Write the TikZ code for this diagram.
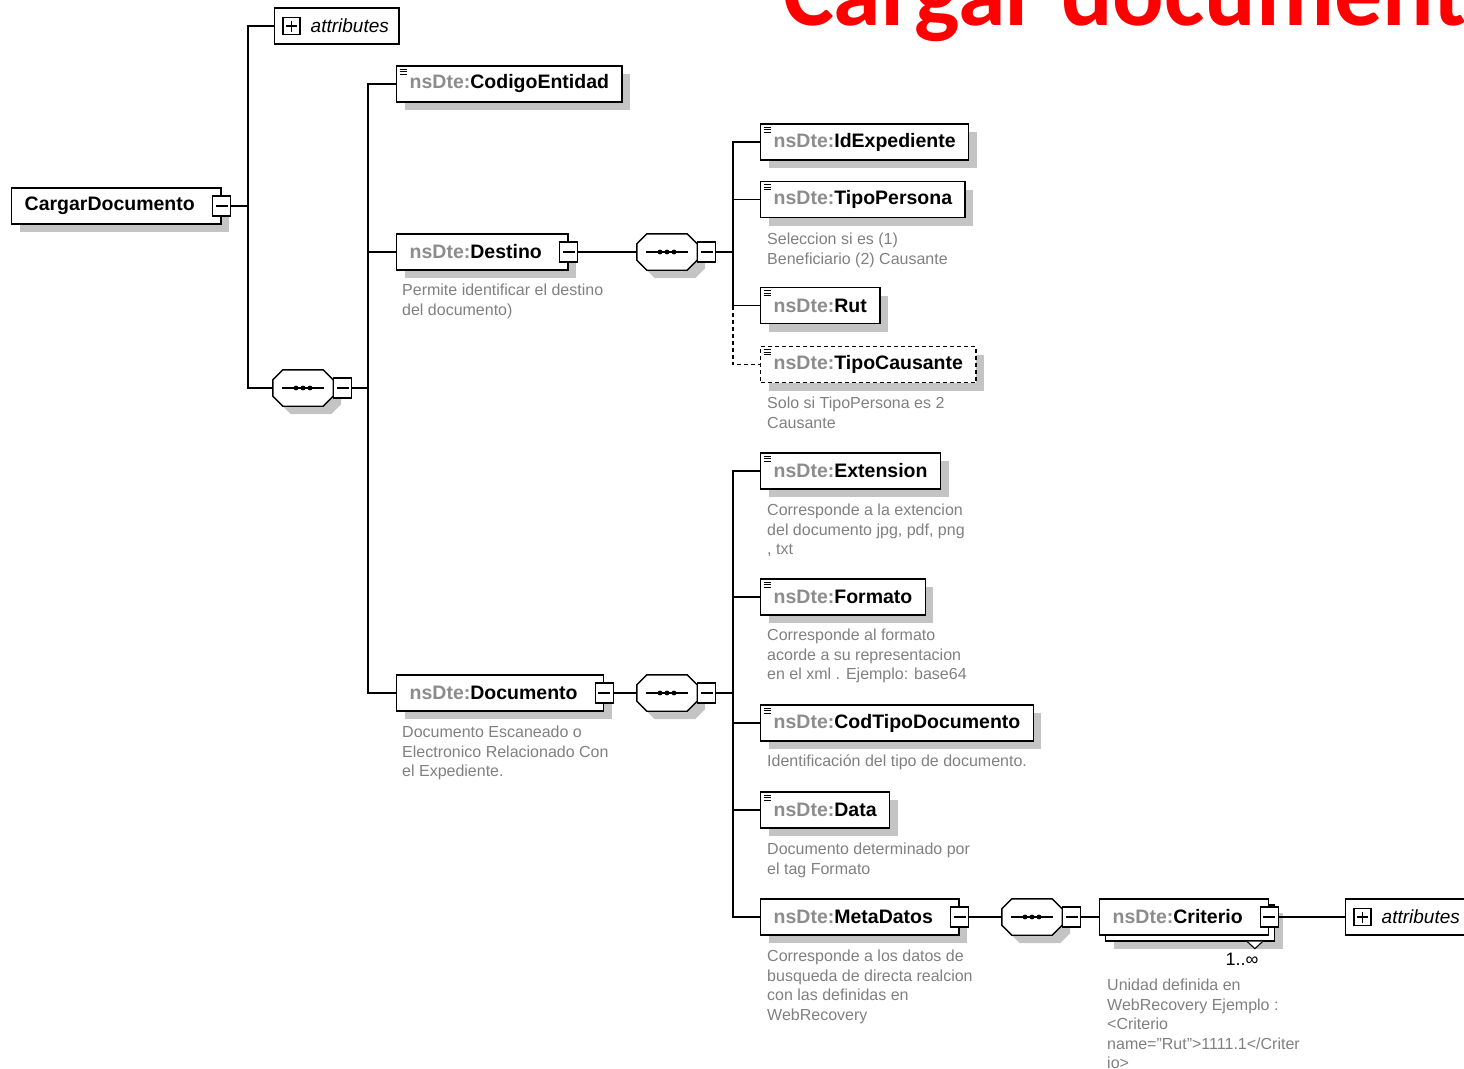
\documentclass[tikz,border=0pt]{standalone}
\usepackage{fontspec}
\setmainfont{Liberation Sans}
\newfontfamily\titlefont{Carlito}
\usepackage{xcolor}
\usepackage{tikz}
\usetikzlibrary{shadows}

\definecolor{nsgray}{HTML}{8C8C8C}
\definecolor{descgray}{HTML}{808080}
\definecolor{shadowgray}{HTML}{C4C4C4}

\newcommand{\ns}[1]{{\color{nsgray}nsDte:}#1}
\newcommand{\seqnode}[2]{%
  \node[seqbox] (#1) at (#2) {};
  \draw[boxline, fill=white, shade] ([xshift=10pt]#1.north west) -- ([xshift=-10pt]#1.north east)
    -- ([yshift=-10pt]#1.north east) -- ([yshift=10pt]#1.south east)
    -- ([xshift=-10pt]#1.south east) -- ([xshift=10pt]#1.south west)
    -- ([yshift=10pt]#1.south west) -- ([yshift=-10pt]#1.north west) -- cycle;
  \draw[link] ([xshift=9pt]#1.west) -- ([xshift=-9pt]#1.east);
  \foreach \d in {-7,0,7} \fill ([xshift=\d pt]#1.center) circle (2.4pt);
  \node[minus, anchor=west] (#1m) at (#1.east) {};
}

\begin{document}
\begin{tikzpicture}[x=1pt, y=-1pt,
  link/.style={line width=1.3pt},
  boxline/.style={line width=1.4pt},
  shade/.style={drop shadow={shadow xshift=8pt, shadow yshift=-8pt, opacity=1, fill=shadowgray}},
  box/.style={draw, boxline, fill=white, anchor=west, minimum height=36pt, inner xsep=13pt, inner ysep=0pt,
    font=\fontsize{19.5}{22}\selectfont\bfseries},
  elem/.style={box, shade},
  leaf/.style={elem, path picture={\foreach \d in {3,5.5,8}
    \draw[solid, line width=0.9pt] ([xshift=3pt, yshift=-\d pt]path picture bounding box.north west) -- ++(7pt,0pt);}},
  opt/.style={dash pattern=on 4pt off 3pt},
  desc/.style={anchor=north west, inner sep=0pt, align=left, text=descgray, font=\fontsize{16}{19.5}\selectfont},
  minus/.style={draw, solid, line width=1.1pt, fill=white, minimum width=18pt, minimum height=20pt, inner sep=0pt,
    path picture={\draw[line width=1.1pt] ([xshift=3pt]path picture bounding box.west) -- ([xshift=-3pt]path picture bounding box.east);}},
  plus/.style={draw, line width=1.1pt, fill=white, minimum width=17pt, minimum height=17pt, inner sep=0pt,
    path picture={\draw[line width=1.1pt] ([xshift=3pt]path picture bounding box.west) -- ([xshift=-3pt]path picture bounding box.east);
      \draw[line width=1.1pt] ([yshift=3pt]path picture bounding box.south) -- ([yshift=-3pt]path picture bounding box.north);}},
  attr/.style={box, inner xsep=10pt, font=\fontsize{19}{22}\selectfont\itshape},
  seqbox/.style={minimum width=60pt, minimum height=36pt, inner sep=0pt}]

\useasboundingbox (0,0) rectangle (1464,1068);
\clip (0,0) rectangle (1464,1068);

\node[anchor=base west, inner sep=0pt, text=red, font=\titlefont\bfseries\fontsize{96}{104}\selectfont] (title) at (783,25) {Cargar document};

\node[elem] (cargar) at (11,206) {CargarDocumento\hspace*{13pt}};
\node[minus] (cargarm) at (cargar.east) {};
\node[attr] (attr1) at (274,26) {\hspace*{26pt}attributes};
\node[plus] (attr1p) at ([xshift=17.5pt]attr1.west) {};
\seqnode{seq1}{303,388}

\node[leaf] (code) at (396,84) {\ns{CodigoEntidad}};
\node[elem] (dest) at (396,252) {\ns{Destino}\hspace*{13pt}};
\node[minus] (destm) at (dest.east) {};
\node[desc] (destd) at (402,284) {Permite identificar el destino\\del documento)};
\node[elem] (doc) at (396,693) {\ns{Documento}\hspace*{13pt}};
\node[minus] (docm) at (doc.east) {};
\node[desc] (docd) at (402,726) {Documento Escaneado o\\Electronico Relacionado Con\\el Expediente.};

\seqnode{seq2}{667,252}
\node[leaf] (idexp) at (760,142) {\ns{IdExpediente}};
\node[leaf] (tipop) at (760,199.5) {\ns{TipoPersona}};
\node[desc] (tipopd) at (767,233) {Seleccion si es (1)\\Beneficiario (2) Causante};
\node[leaf] (rut) at (760,305.5) {\ns{Rut}};
\node[leaf, opt] (tipoc) at (760,364.5) {\ns{TipoCausante}};
\node[desc] (tipocd) at (767,397) {Solo si TipoPersona es 2\\Causante};

\seqnode{seq3}{667,693}
\node[leaf] (ext) at (760,471) {\ns{Extension}};
\node[desc] (extd) at (767,504) {Corresponde a la extencion\\del documento jpg, pdf, png\\, txt};
\node[leaf] (fmt) at (760,597) {\ns{Formato}};
\node[desc] (fmtd) at (767,629) {Corresponde al formato\\acorde a su representacion\\en el xml . Ejemplo: base64};
\node[leaf] (codt) at (760,723) {\ns{CodTipoDocumento}};
\node[desc] (codtd) at (767,755) {Identificación del tipo de documento.};
\node[leaf] (data) at (760,810) {\ns{Data}};
\node[desc] (datad) at (767,843) {Documento determinado por\\el tag Formato};
\node[elem] (meta) at (760,917) {\ns{MetaDatos}\hspace*{13pt}};
\node[minus] (metam) at (meta.east) {};
\node[desc] (metad) at (767,950) {Corresponde a los datos de\\busqueda de directa realcion\\con las definidas en\\WebRecovery};

\seqnode{seq4}{1032,917}
\node[elem] (critb) at (1105,923) {\phantom{\ns{Criterio}}\hspace*{13pt}};
\node[box] (crit) at (1099,917) {\ns{Criterio}\hspace*{13pt}};
\node[minus] (critm) at (crit.east) {};
\draw[line width=1.1pt, fill=white] ([xshift=-28pt]critb.south east) -- ++(7.5pt,-7pt) -- ++(7.5pt,7pt);
\node[font=\fontsize{18}{20}\selectfont] (critn) at (1242,959) {1..∞};
\node[desc] (critd) at (1107,979) {Unidad definida en\\WebRecovery Ejemplo :\\<Criterio\\name="Rut">1111.1</Criter\\io>};
\node[attr] (attr2) at (1345,917) {\hspace*{26pt}attributes};
\node[plus] (attr2p) at ([xshift=17.5pt]attr2.west) {};

\coordinate (j1) at (248,206);
\coordinate (j2) at (368,388);
\coordinate (j3) at (733,252);
\coordinate (j4) at (733,693);

\draw[link] (cargarm.east) -- (j1);
\draw[link] (attr1.west) -| (j1) |- (seq1.west);
\draw[link] (seq1m.east) -- (j2);
\draw[link] (code.west) -| (j2) |- (doc.west);
\draw[link] (j2) |- (dest.west);
\draw[link] (destm.east) -- (seq2.west);
\draw[link] (seq2m.east) -- (j3);
\draw[link] (idexp.west) -| (j3) |- (rut.west);
\draw[link] (j3) |- (tipop.west);
\draw[link, opt] (rut.west -| j3) |- (tipoc.west);
\draw[link] (docm.east) -- (seq3.west);
\draw[link] (seq3m.east) -- (j4);
\draw[link] (ext.west) -| (j4) |- (meta.west);
\draw[link] (j4) |- (fmt.west);
\draw[link] (j4) |- (codt.west);
\draw[link] (j4) |- (data.west);
\draw[link] (metam.east) -- (seq4.west);
\draw[link] (seq4m.east) -- (crit.west);
\draw[link] (critm.east) -- (attr2.west);

\end{tikzpicture}
\end{document}
